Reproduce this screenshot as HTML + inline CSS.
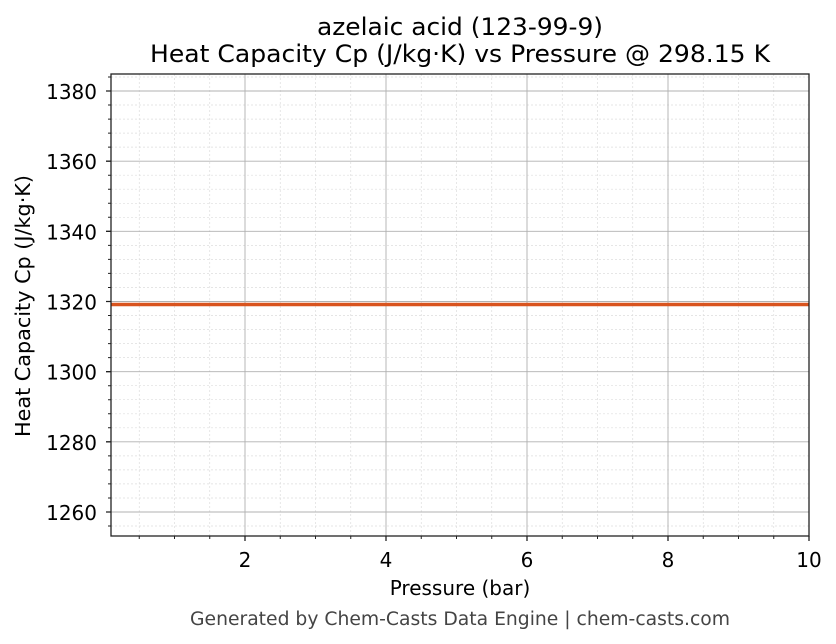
<!DOCTYPE html>
<html><head><meta charset="utf-8"><style>body{margin:0;background:#fff}svg{display:block}text{font-family:"DejaVu Sans","Liberation Sans",sans-serif}</style></head><body>
<svg width="836" height="644" xmlns="http://www.w3.org/2000/svg">
<rect width="836" height="644" fill="#fff"/>
<g stroke="#ddd" stroke-width="0.7" stroke-dasharray="2,2">
<path d="M139.25 74V536M174.5 74V536M209.75 74V536M280.25 74V536M315.5 74V536M350.75 74V536M421.25 74V536M456.5 74V536M491.75 74V536M562.25 74V536M597.5 74V536M632.75 74V536M703.25 74V536M738.5 74V536M773.75 74V536"/>
<path d="M111 526H809M111 498H809M111 483.9H809M111 469.9H809M111 455.9H809M111 427.8H809M111 413.8H809M111 399.7H809M111 385.7H809M111 357.6H809M111 343.6H809M111 329.6H809M111 315.5H809M111 287.5H809M111 273.4H809M111 259.4H809M111 245.4H809M111 217.3H809M111 203.3H809M111 189.2H809M111 175.2H809M111 147.1H809M111 133.1H809M111 119.1H809M111 105H809M111 77H809"/>
</g>
<g stroke="#b0b0b0" stroke-width="0.9">
<path d="M245 74V536M386 74V536M527 74V536M668 74V536"/>
<path d="M111 512H809M111 441.8H809M111 371.7H809M111 301.5H809M111 231.3H809M111 161.2H809M111 91H809"/>
</g>
<line x1="111" y1="304.5" x2="809" y2="304.5" stroke="#d9541e" stroke-width="3.5"/>
<rect x="111" y="74" width="698" height="462" fill="none" stroke="#222" stroke-width="1.3"/>
<g stroke="#222" stroke-width="1">
<path d="M139.25 536v3M174.5 536v3M209.75 536v3M280.25 536v3M315.5 536v3M350.75 536v3M421.25 536v3M456.5 536v3M491.75 536v3M562.25 536v3M597.5 536v3M632.75 536v3M703.25 536v3M738.5 536v3M773.75 536v3"/>
<path d="M111 526h-3M111 498h-3M111 483.9h-3M111 469.9h-3M111 455.9h-3M111 427.8h-3M111 413.8h-3M111 399.7h-3M111 385.7h-3M111 357.6h-3M111 343.6h-3M111 329.6h-3M111 315.5h-3M111 287.5h-3M111 273.4h-3M111 259.4h-3M111 245.4h-3M111 217.3h-3M111 203.3h-3M111 189.2h-3M111 175.2h-3M111 147.1h-3M111 133.1h-3M111 119.1h-3M111 105h-3M111 77h-3"/>
</g>
<g stroke="#222" stroke-width="1.3">
<path d="M245 536v5M386 536v5M527 536v5M668 536v5M809 536v5"/>
<path d="M111 512h-5M111 441.8h-5M111 371.7h-5M111 301.5h-5M111 231.3h-5M111 161.2h-5M111 91h-5"/>
</g>
<g font-size="20" fill="#000" text-anchor="middle">
<text x="245" y="567">2</text><text x="386" y="567">4</text><text x="527" y="567">6</text><text x="668" y="567">8</text><text x="809" y="567">10</text>
</g>
<g font-size="20" fill="#000" text-anchor="end">
<text x="97" y="520">1260</text><text x="97" y="449.8">1280</text><text x="97" y="379.7">1300</text><text x="97" y="309.5">1320</text><text x="97" y="239.3">1340</text><text x="97" y="169.2">1360</text><text x="97" y="99">1380</text>
</g>
<text x="460" y="595" font-size="20" text-anchor="middle">Pressure (bar)</text>
<text transform="translate(30,306) rotate(-90)" font-size="20" text-anchor="middle" textLength="262" lengthAdjust="spacingAndGlyphs">Heat Capacity Cp (J/kg·K)</text>
<text x="460" y="35" font-size="24" text-anchor="middle" textLength="286" lengthAdjust="spacingAndGlyphs">azelaic acid (123-99-9)</text>
<text x="460" y="62" font-size="24" text-anchor="middle" textLength="620" lengthAdjust="spacingAndGlyphs">Heat Capacity Cp (J/kg·K) vs Pressure @ 298.15 K</text>
<text x="460" y="625" font-size="18.5" fill="#444" text-anchor="middle" textLength="540" lengthAdjust="spacingAndGlyphs">Generated by Chem-Casts Data Engine | chem-casts.com</text>
</svg>
</body></html>
